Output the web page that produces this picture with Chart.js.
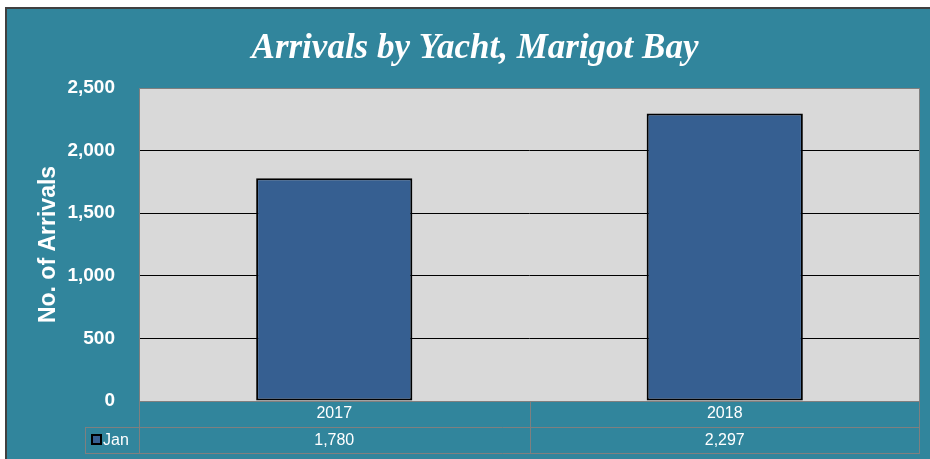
<!DOCTYPE html>
<html>
<head>
<meta charset="utf-8">
<script src="https://cdn.jsdelivr.net/npm/chart.js@4.4.1/dist/chart.umd.min.js"></script>
<style>
  html,body{margin:0;padding:0;background:#ffffff;}
  #wrap{width:930px;height:459px;}
</style>
</head>
<body>
<div id="wrap"><canvas id="c" width="930" height="459"></canvas></div>
<script>
const categories = ['2017', '2018'];
const seriesName = 'Jan';
const janValues = [1780, 2297];
const tableLabels = ['1,780', '2,297'];
const yTicks = [0, 500, 1000, 1500, 2000, 2500];

const TEAL = '#31859c';
const BAR = '#365f91';
const LINE = '#7f7f7f';

const bgPlugin = {
  id: 'bg',
  beforeDraw(chart) {
    const ctx = chart.ctx;
    ctx.save();
    ctx.fillStyle = TEAL;
    ctx.fillRect(5, 7, chart.width - 5, chart.height - 7);
    ctx.strokeStyle = '#404040';
    ctx.lineWidth = 2;
    ctx.beginPath();
    ctx.moveTo(6, chart.height);
    ctx.lineTo(6, 8);
    ctx.lineTo(chart.width, 8);
    ctx.stroke();
    const a = chart.chartArea;
    ctx.fillStyle = '#d9d9d9';
    ctx.fillRect(a.left, a.top, a.right - a.left, a.bottom - a.top);
    ctx.restore();
  },
  afterDraw(chart) {
    const ctx = chart.ctx;
    const a = chart.chartArea;
    const x = chart.scales.x;
    const rowH = 26;
    const y0 = a.bottom, y1 = a.bottom + rowH, y2 = a.bottom + 2 * rowH;
    const legLeft = 85;
    ctx.save();
    ctx.strokeStyle = LINE;
    ctx.lineWidth = 1;
    ctx.strokeRect(a.left + 0.5, a.top + 0.5, a.right - a.left - 1, a.bottom - a.top);
    ctx.beginPath();
    ctx.moveTo(a.left, y0 + 0.5); ctx.lineTo(a.right, y0 + 0.5);
    ctx.moveTo(legLeft, y1 + 0.5); ctx.lineTo(a.right, y1 + 0.5);
    ctx.moveTo(legLeft, y2 + 0.5); ctx.lineTo(a.right, y2 + 0.5);
    ctx.moveTo(legLeft + 0.5, y1); ctx.lineTo(legLeft + 0.5, y2);
    ctx.moveTo(a.left + 0.5, y0); ctx.lineTo(a.left + 0.5, y2);
    ctx.moveTo(a.right - 0.5, y0); ctx.lineTo(a.right - 0.5, y2);
    const mid = (x.getPixelForValue(0) + x.getPixelForValue(1)) / 2;
    ctx.moveTo(Math.round(mid) + 0.5, y0); ctx.lineTo(Math.round(mid) + 0.5, y2);
    ctx.stroke();
    ctx.fillStyle = BAR;
    ctx.fillRect(92, y1 + 8, 9, 9);
    ctx.strokeStyle = '#000000';
    ctx.lineWidth = 2;
    ctx.strokeRect(92, y1 + 8, 9, 9);
    ctx.fillStyle = '#ffffff';
    ctx.font = '16px "Liberation Sans", Arial, sans-serif';
    ctx.textBaseline = 'middle';
    ctx.textAlign = 'left';
    ctx.fillText(seriesName, 103, y1 + rowH / 2 + 1);
    ctx.textAlign = 'center';
    tableLabels.forEach((t, i) => {
      ctx.fillText(t, x.getPixelForValue(i), y1 + rowH / 2 + 1);
    });
    ctx.restore();
  }
};

new Chart(document.getElementById('c'), {
  type: 'bar',
  data: {
    labels: categories,
    datasets: [{
      label: seriesName,
      data: janValues,
      backgroundColor: BAR,
      borderColor: '#000000',
      borderWidth: 2,
      borderSkipped: false,
      barPercentage: 0.4,
      categoryPercentage: 1.0
    }]
  },
  plugins: [bgPlugin],
  options: {
    responsive: false,
    animation: false,
    devicePixelRatio: 1,
    layout: { padding: { left: 30, right: 10, top: 0, bottom: 32 } },
    plugins: {
      legend: { display: false },
      tooltip: { enabled: false },
      title: {
        display: true,
        text: 'Arrivals by Yacht, Marigot Bay',
        color: '#ffffff',
        font: { family: '"Liberation Serif", "Times New Roman", serif', size: 35, style: 'italic', weight: 'bold', lineHeight: 1.2 },
        padding: { top: 28, bottom: 18 }
      }
    },
    scales: {
      x: {
        grid: { display: false, drawTicks: false },
        border: { display: false },
        ticks: { color: '#ffffff', font: { family: '"Liberation Sans", Arial, sans-serif', size: 16 }, padding: 3 },
        afterFit(s) { s.height = 26; }
      },
      y: {
        min: 0, max: 2500,
        afterBuildTicks(s) { s.ticks = yTicks.map(v => ({ value: v })); },
        grid: { color: '#000000', lineWidth: 1, drawTicks: false },
        border: { display: false },
        ticks: {
          color: '#ffffff',
          font: { family: '"Liberation Sans", Arial, sans-serif', size: 19, weight: 'bold' },
          padding: 24,
          callback: v => v.toLocaleString('en-US')
        },
        title: {
          display: true,
          text: 'No. of Arrivals',
          color: '#ffffff',
          font: { family: '"Liberation Sans", Arial, sans-serif', size: 23, weight: 'bold', lineHeight: 1.2 },
          padding: { top: 5, bottom: 0 }
        },
        afterFit(s) { s.width = 109; }
      }
    }
  }
});
</script>
</body>
</html>
